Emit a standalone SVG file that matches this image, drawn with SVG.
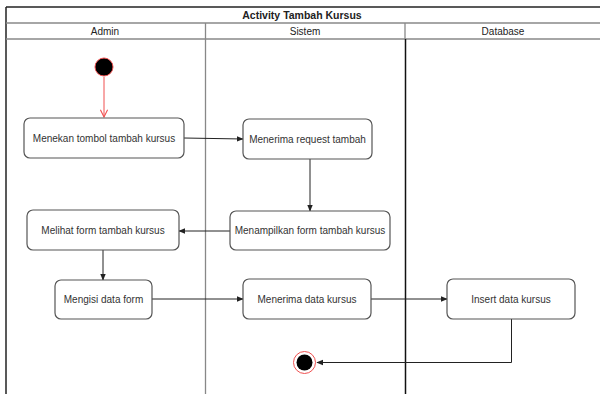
<svg xmlns="http://www.w3.org/2000/svg" width="600" height="394" viewBox="0 0 600 394">
<style>
.t{font-family:"Liberation Sans",Arial,sans-serif;font-size:10px;fill:#333;text-anchor:middle;dominant-baseline:central}
.h{font-family:"Liberation Sans",Arial,sans-serif;font-size:10px;fill:#222;text-anchor:middle;dominant-baseline:central}
.b{fill:#fff;stroke:#555;stroke-width:1.2}
.e{fill:none;stroke:#222;stroke-width:1}
</style>
<defs>
<marker id="a" viewBox="0 0 10 10" refX="9" refY="5" markerWidth="7" markerHeight="7" orient="auto" markerUnits="userSpaceOnUse"><path d="M0,1 L10,5 L0,9 z" fill="#222"/></marker>
<marker id="ar" viewBox="0 0 10 10" refX="9" refY="5" markerWidth="9" markerHeight="9" orient="auto" markerUnits="userSpaceOnUse"><path d="M1,1 L9,5 L1,9" fill="none" stroke="#f05050" stroke-width="1.2"/></marker>
</defs>
<rect width="600" height="394" fill="#fff"/>
<g id="pool">
<line x1="6" y1="7" x2="600" y2="7" stroke="#222" stroke-width="1.5"/>
<line x1="6" y1="7" x2="6" y2="394" stroke="#222" stroke-width="1.5"/>
<line x1="6" y1="23" x2="600" y2="23" stroke="#888" stroke-width="1.5"/>
<line x1="6" y1="39" x2="600" y2="39" stroke="#888" stroke-width="1.5"/>
<line x1="205.5" y1="23" x2="205.5" y2="394" stroke="#888" stroke-width="1.3"/>
<line x1="405" y1="23" x2="405" y2="39" stroke="#888" stroke-width="1.3"/>
<line x1="405.5" y1="39" x2="405.5" y2="394" stroke="#111" stroke-width="1.5"/>
<text class="h" x="302" y="15" font-weight="bold" style="font-size:10.5px">Activity Tambah Kursus</text>
<text class="h" x="105" y="31">Admin</text>
<text class="h" x="305" y="31">Sistem</text>
<text class="h" x="503" y="31">Database</text>
</g>
<g id="edges">
<line x1="104" y1="77" x2="104" y2="117" stroke="#f05050" stroke-width="1" marker-end="url(#ar)"/>
<line class="e" x1="184" y1="138" x2="243" y2="139" marker-end="url(#a)"/>
<line class="e" x1="310" y1="159" x2="310" y2="211" marker-end="url(#a)"/>
<line class="e" x1="230" y1="231" x2="179" y2="231" marker-end="url(#a)"/>
<line class="e" x1="103" y1="250" x2="103" y2="280" marker-end="url(#a)"/>
<line class="e" x1="152" y1="299" x2="243" y2="299" marker-end="url(#a)"/>
<line class="e" x1="371" y1="299" x2="447" y2="299" marker-end="url(#a)"/>
<polyline class="e" points="511.5,319 511.5,362.5 317,362.5" marker-end="url(#a)"/>
</g>
<g id="start"><circle cx="104" cy="67" r="9" fill="#000" stroke="#f05050" stroke-width="1"/></g>
<g id="n1"><rect class="b" x="24" y="118" width="160" height="40" rx="6"/><text class="t" x="104" y="138">Menekan tombol tambah kursus</text></g>
<g id="n2"><rect class="b" x="243" y="119" width="129" height="40" rx="6"/><text class="t" x="307.5" y="139">Menerima request tambah</text></g>
<g id="n3"><rect class="b" x="230" y="211" width="160" height="39" rx="6"/><text class="t" x="310" y="230.5">Menampilkan form tambah kursus</text></g>
<g id="n4"><rect class="b" x="27" y="210" width="152" height="40" rx="6"/><text class="t" x="103" y="230">Melihat form tambah kursus</text></g>
<g id="n5"><rect class="b" x="55" y="280" width="97" height="39" rx="6"/><text class="t" x="103.5" y="299.5">Mengisi data form</text></g>
<g id="n6"><rect class="b" x="243" y="279" width="128" height="40" rx="6"/><text class="t" x="307" y="299">Menerima data kursus</text></g>
<g id="n7"><rect class="b" x="447" y="279" width="128" height="40" rx="6"/><text class="t" x="511" y="299">Insert data kursus</text></g>
<g id="end"><circle cx="304.5" cy="362.5" r="11" fill="#fff" stroke="#f05050" stroke-width="1"/><circle cx="304.5" cy="362.5" r="8" fill="#000"/></g>
</svg>
